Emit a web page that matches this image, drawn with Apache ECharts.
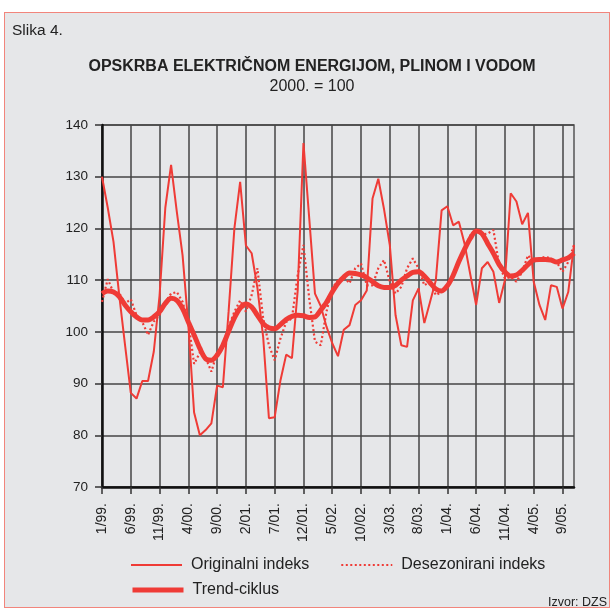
<!DOCTYPE html>
<html><head><meta charset="utf-8">
<script src="https://cdn.jsdelivr.net/npm/echarts@6/dist/echarts.min.js"></script>
<style>
html,body{margin:0;padding:0;background:#fff;}
#frame{position:absolute;left:4px;top:12px;width:604px;height:594px;background:#e6e7e9;border:1.5px solid #f2857c;}
#c{position:absolute;left:0;top:0;width:612px;height:610px;}
</style></head><body>
<div id="frame"></div>
<div id="c"></div>
<script>
// months 1/99 .. 11/05
const years = ['99','00','01','02','03','04','05'];
const categories = [];
for (let y = 0; y < years.length; y++) for (let m = 1; m <= 12; m++) categories.push(m + '/' + years[y] + '.');
categories.length = 83;

const original = [130,124,117.4,107,97.5,88.2,87.1,90.5,90.5,96.2,
  107,124,132.3,123.2,114.8,101.3,84.4,80,81,82.3,
  89.6,89.3,104,120,129,116.7,115.2,108.5,99,83.3,
  83.5,90.6,95.6,94.9,108,136.5,122,107.4,105,101,
  97.8,95.3,100.4,101.3,105.2,106.1,108,125.8,129.6,123.7,
  116.8,103.2,97.4,97.1,106.1,108.4,101.7,105.8,110,123.5,
  124.3,120.6,121.3,117,111,105.2,112.3,113.5,111.6,105.6,
  110,126.8,125.2,120.8,123,109.7,105.2,102.3,109,108.7,
  104.5,107.7,116.8];
const deseasonalized = [105.8,110.2,107.6,107.5,105.5,106.3,103.2,101.9,99.4,102,
  103.2,105.8,107.4,107.7,105.8,101.9,93.8,96,95,92.3,
  96,97.4,101,103.9,106.1,103.9,107.1,112.3,102.6,97.4,
  94.5,98.7,101.9,102.6,111,116.8,106.5,98.1,97.4,103.9,
  108.4,110,110.6,109.4,112.3,113.2,109,109,112.3,113.9,
  109.7,107.4,108.7,112.3,114.2,112.3,109,109.7,107.1,107.7,
  109,110.6,114,116.1,118.7,119.5,118.8,119,119.7,112.9,
  110.3,110.6,109.7,111.6,114.8,113.5,114.2,114.5,114.2,113.5,
  111.6,113.5,116.8];
const trend = [107.4,107.9,107.7,106.8,105.2,103.9,102.9,102.3,102.3,102.9,
  103.9,105.5,106.5,106.1,104.5,101.9,99.4,96.8,94.8,94.5,
  95.5,97.4,100.1,102.7,104.6,105.4,104.8,103.2,101.6,100.8,
  100.6,101.4,102.4,103,103.2,103.1,102.8,102.9,104.2,105.7,
  107.7,109.4,110.6,111.4,111.3,111,110.5,109.7,108.9,108.6,
  108.6,109,110,110.8,111.5,111.6,110.8,109.5,108.3,107.9,
  108.9,110.9,113.6,116,118.1,119.5,119,117.1,115.2,113,
  111.6,110.8,111,111.9,113,113.9,114,114,113.9,113.5,
  113.9,114.3,115.2];
const yTicks = [70,80,90,100,110,120,130,140];

const RED = '#ef3b36';
const chart = echarts.init(document.getElementById('c'), null, {renderer:'canvas'});
const FONT = 'Liberation Sans, Arial, sans-serif';
const legendCommon = {itemWidth: 51, itemHeight: 10, selectedMode: false, padding: 0,
  itemStyle: {opacity: 0}, textStyle: {fontSize: 16, color: '#222', fontFamily: FONT, padding: [0,0,0,4]}};
chart.setOption({
  backgroundColor: 'transparent',
  animation: false,
  textStyle: {fontFamily: FONT},
  title: [
    {text: 'Slika 4.', left: 12, top: 23, padding: 0, textStyle: {fontSize: 15.5, fontWeight: 'normal', color: '#222', fontFamily: FONT}},
    {text: 'OPSKRBA ELEKTRIČNOM ENERGIJOM, PLINOM I VODOM', subtext: '2000. = 100', left: 312, textAlign: 'center', top: 59, itemGap: 4, padding: 0,
     textStyle: {fontSize: 16, fontWeight: 'bold', color: '#222', fontFamily: FONT},
     subtextStyle: {fontSize: 16, color: '#222', fontFamily: FONT}},
    {text: 'Izvor: DZS', right: 5, top: 596, padding: 0, textStyle: {fontSize: 12.5, fontWeight: 'normal', color: '#222', fontFamily: FONT}}
  ],
  legend: [
    Object.assign({data: ['Originalni indeks', 'Desezonirani indeks'], left: 130, top: 557, itemGap: 31, lineStyle: {width: 2}}, legendCommon),
    Object.assign({data: ['Trend-ciklus'], left: 130, top: 582, lineStyle: {width: 5}}, legendCommon)
  ],
  grid: {left: 102, right: 38, top: 125, bottom: 123, show: true, borderColor: '#555', borderWidth: 1.5, backgroundColor: 'transparent'},
  xAxis: {
    type: 'category', data: categories, boundaryGap: false,
    axisLine: {lineStyle: {color: '#111', width: 2.5}},
    axisTick: {show: true, interval: 4, length: 7, lineStyle: {color: '#333', width: 1.5}},
    axisLabel: {interval: 4, rotate: 90, margin: 16, fontSize: 14, color: '#222', fontFamily: FONT},
    splitLine: {show: true, interval: 4, lineStyle: {color: '#444', width: 1.5}}
  },
  yAxis: {
    type: 'value', min: yTicks[0], max: yTicks[yTicks.length-1], interval: 10,
    axisLine: {show: true, lineStyle: {color: '#111', width: 2.5}},
    axisTick: {show: true, length: 7, lineStyle: {color: '#333', width: 1.5}},
    axisLabel: {margin: 14, fontSize: 13.5, color: '#222', fontFamily: FONT},
    splitLine: {show: true, lineStyle: {color: '#444', width: 1.5}}
  },
  series: [
    {name: 'Originalni indeks', type: 'line', data: original, symbol: 'none', color: RED, lineStyle: {color: RED, width: 2}, z: 3},
    {name: 'Desezonirani indeks', type: 'line', data: deseasonalized, symbol: 'none', color: RED, lineStyle: {color: RED, width: 2.2, type: [2, 2.5]}, z: 4},
    {name: 'Trend-ciklus', type: 'line', data: trend, symbol: 'none', smooth: 0.3, color: RED, lineStyle: {color: RED, width: 5}, z: 5}
  ]
});
</script>
</body></html>
